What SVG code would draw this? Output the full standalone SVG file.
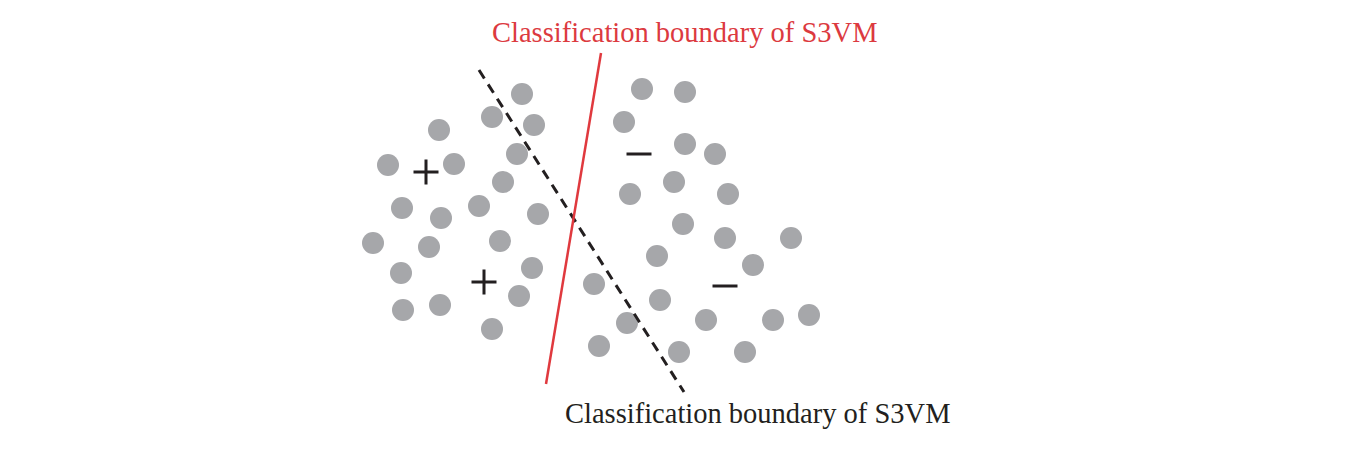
<svg xmlns="http://www.w3.org/2000/svg" width="1367" height="452" viewBox="0 0 1367 452">
<style>
.pt{fill:#a6a7aa}
.sym{stroke:#231f20;stroke-width:3;fill:none}
.lbl{font-family:"Liberation Serif","Times New Roman",serif;font-size:28.5px}
</style>
<rect width="1367" height="452" fill="#fff"/>
<g id="positive-points">
<circle class="pt" cx="522" cy="94" r="11"/>
<circle class="pt" cx="492" cy="117" r="11"/>
<circle class="pt" cx="534" cy="125" r="11"/>
<circle class="pt" cx="439" cy="130" r="11"/>
<circle class="pt" cx="388" cy="165" r="11"/>
<circle class="pt" cx="454" cy="164" r="11"/>
<circle class="pt" cx="517" cy="154" r="11"/>
<circle class="pt" cx="503" cy="182" r="11"/>
<circle class="pt" cx="402" cy="208" r="11"/>
<circle class="pt" cx="441" cy="218" r="11"/>
<circle class="pt" cx="479" cy="206" r="11"/>
<circle class="pt" cx="538" cy="214" r="11"/>
<circle class="pt" cx="373" cy="243" r="11"/>
<circle class="pt" cx="429" cy="247" r="11"/>
<circle class="pt" cx="500" cy="241" r="11"/>
<circle class="pt" cx="401" cy="273" r="11"/>
<circle class="pt" cx="532" cy="268" r="11"/>
<circle class="pt" cx="519" cy="296" r="11"/>
<circle class="pt" cx="403" cy="310" r="11"/>
<circle class="pt" cx="440" cy="305" r="11"/>
<circle class="pt" cx="492" cy="329" r="11"/>
</g>
<g id="negative-points">
<circle class="pt" cx="642" cy="89" r="11"/>
<circle class="pt" cx="685" cy="92" r="11"/>
<circle class="pt" cx="624" cy="122" r="11"/>
<circle class="pt" cx="685" cy="144" r="11"/>
<circle class="pt" cx="715" cy="154" r="11"/>
<circle class="pt" cx="674" cy="182" r="11"/>
<circle class="pt" cx="630" cy="194" r="11"/>
<circle class="pt" cx="728" cy="194" r="11"/>
<circle class="pt" cx="683" cy="224" r="11"/>
<circle class="pt" cx="725" cy="238" r="11"/>
<circle class="pt" cx="791" cy="238" r="11"/>
<circle class="pt" cx="657" cy="256" r="11"/>
<circle class="pt" cx="753" cy="265" r="11"/>
<circle class="pt" cx="594" cy="284" r="11"/>
<circle class="pt" cx="660" cy="300" r="11"/>
<circle class="pt" cx="627" cy="323" r="11"/>
<circle class="pt" cx="706" cy="320" r="11"/>
<circle class="pt" cx="773" cy="320" r="11"/>
<circle class="pt" cx="809" cy="315" r="11"/>
<circle class="pt" cx="599" cy="346" r="11"/>
<circle class="pt" cx="679" cy="352" r="11"/>
<circle class="pt" cx="745" cy="352" r="11"/>
</g>
<g id="class-signs">
<path class="sym" d="M413.5 172H438.5M426 159.5V184.5"/>
<path class="sym" d="M471.5 282H496.5M484 269.5V294.5"/>
<path class="sym" d="M626.5 154H651.5"/>
<path class="sym" d="M712.5 286H737.5"/>
</g>
<g id="connectors">
<line x1="479" y1="70" x2="684" y2="392" stroke="#231f20" stroke-width="3" stroke-dasharray="10,7"/>
<line x1="601" y1="53" x2="546" y2="384" stroke="#e0393e" stroke-width="2.5"/>
</g>
<g id="label-red">
<text class="lbl" x="492" y="42" fill="#dc3a3f">Classification boundary of S3VM</text>
</g>
<g id="label-black">
<text class="lbl" x="565" y="423" fill="#231f20">Classification boundary of S3VM</text>
</g>
</svg>
